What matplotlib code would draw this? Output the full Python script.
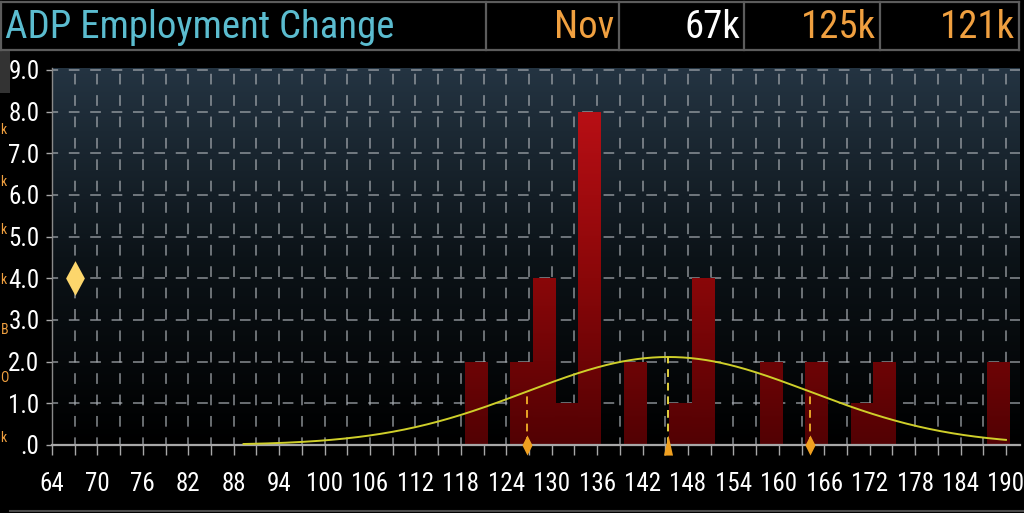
import numpy as np
import matplotlib
matplotlib.use('Agg')
import matplotlib.pyplot as plt
from matplotlib.patches import Rectangle
from matplotlib.colors import LinearSegmentedColormap
from matplotlib.lines import Line2D
from matplotlib import font_manager as fm

# ---------------- data ----------------
bin_centers = [120, 126, 129, 132, 135, 141, 147, 150, 159, 165, 171, 174, 189]
counts = [2, 2, 4, 1, 8, 2, 1, 4, 2, 2, 1, 2, 2]
bin_width = 3
actual_x = [67]
actual_y = [4]
mean_val = 145.4
sd_val = 18.7
curve_range = [89.3, 190]
n_obs = sum(counts)
x_tick_labels = list(range(64, 191, 6))
x_minor = list(range(67, 191, 6))
y_ticks = list(range(0, 10))
y_tick_labels = ['.0', '1.0', '2.0', '3.0', '4.0', '5.0', '6.0', '7.0', '8.0', '9.0']
header_title = 'ADP Employment Change'
header_cells = ['Nov', '67k', '125k', '121k']
left_letters = ['k', 'k', 'k', 'k', 'B', 'O', 'k']

# ---- pick the narrowest installed sans family ----
entries = [(f.name, f.stretch) for f in fm.fontManager.ttflist]
names = {n for n, _ in entries}
narrow_family = None
stretch = 'normal'
for cand in ['Liberation Sans Narrow', 'Roboto Condensed', 'Open Sans Condensed',
             'Noto Sans Condensed', 'DejaVu Sans Condensed']:
    if cand in names:
        narrow_family = cand
        break
if narrow_family is None:
    for fam in ['Roboto', 'Noto Sans', 'Open Sans', 'DejaVu Sans']:
        if any(n == fam and str(s).lower() in ('condensed', 'semi-condensed',
               'extra-condensed', '75', '62.5', '87.5') for n, s in entries):
            narrow_family = fam
            stretch = 'condensed'
            break
if narrow_family is None:
    narrow_family = 'Liberation Sans'
    k = 0.80
else:
    k = 1.0
FONT = [narrow_family, 'DejaVu Sans']
plt.rcParams['font.family'] = FONT
plt.rcParams['font.stretch'] = stretch

W, H = 1024, 513
fig = plt.figure(figsize=(W / 100, H / 100), dpi=100, facecolor='black')

# ---------- background / header layer ----------
bg = fig.add_axes([0, 0, 1, 1])
bg.set_xlim(0, W)
bg.set_ylim(H, 0)
bg.axis('off')
bg.set_zorder(0)
gcol = '#5c5c5c'
for yy in (1.5, 50):
    bg.add_line(Line2D([0, 1019], [yy, yy], color=gcol, lw=1.6))
for xx in (0.8, 486, 619, 744, 880, 1018.5):
    bg.add_line(Line2D([xx, xx], [1.5, 50], color=gcol, lw=1.6))
title_fs = 28 * (1.0 if k == 1.0 else 0.86)
bg.text(5, 28, header_title, color='#5bbccf', fontsize=title_fs, ha='left', va='center')
cell_right = [614, 740, 876, 1015]
cell_cols = ['#f0a040', '#ffffff', '#f0a040', '#f0a040']
for t, xr, c in zip(header_cells, cell_right, cell_cols):
    bg.text(xr, 28, t, color=c, fontsize=title_fs, ha='right', va='center')
bg.add_patch(Rectangle((0, 50), 10, 43, color='#333333', lw=0))
bg.add_line(Line2D([10, W], [510.5, 510.5], color='#4a4a4a', lw=1.5))
letter_y = [130, 182, 230, 280, 330, 378, 438]
for ch, yy in zip(left_letters, letter_y):
    bg.text(0.5, yy, ch, color='#f0a040', fontsize=10, ha='left', va='center')

# ---------- chart axes ----------
px_per_unit = 7.571
x0, x1 = 64, 64 + (1020 - 52) / px_per_unit
y0, y1 = 0, (445 - 68) / 41.67
ax = fig.add_axes([52 / W, 1 - 445 / H, (1020 - 52) / W, (445 - 68) / H])
ax.set_zorder(2)
ax.set_xlim(x0, x1)
ax.set_ylim(y0, y1)
ax.patch.set_alpha(0)

bg_cmap = LinearSegmentedColormap.from_list('bg', ['#000000', '#0c1318', '#243442'])
ax.imshow(np.linspace(0, 1, 256).reshape(-1, 1), extent=[x0, x1, y0, y1],
          aspect='auto', origin='lower', cmap=bg_cmap, zorder=0)

# grid
gc = '#a8adb2'
for yv in y_ticks[1:]:
    ax.axhline(yv, color=gc, lw=1.1, ls=(3, (7, 7)), zorder=1, alpha=0.8)
for xv in range(67, 191, 3):
    ax.axvline(xv, color=gc, lw=1.1, ls=(2, (7, 7)), zorder=1, alpha=0.8)

# bars with vertical gradient
bar_cmap = LinearSegmentedColormap.from_list('bar', ['#520103', '#8a0709', '#b80f15'])
bars = ax.bar(bin_centers, counts, width=bin_width, color='none', lw=0, zorder=2)
for p in bars:
    im = ax.imshow(np.linspace(0, 1, 256).reshape(-1, 1), extent=[x0, x1, 0, 8],
                   aspect='auto', origin='lower', cmap=bar_cmap, zorder=2)
    im.set_clip_path(p)
ax.set_xlim(x0, x1)
ax.set_ylim(y0, y1)

# fitted normal curve
xs = np.linspace(curve_range[0], curve_range[1], 400)
scale = n_obs * bin_width / (sd_val * np.sqrt(2 * np.pi))
def dens(x):
    return scale * np.exp(-0.5 * ((x - mean_val) / sd_val) ** 2)
ax.plot(xs, dens(xs), color='#cfcf2a', lw=1.4, zorder=4)

# mean and +/- sd lines
ax.plot([mean_val, mean_val], [0, dens(mean_val)], color='#e2d040', lw=1.4,
        ls=(0, (4, 3)), zorder=4)
for xv in (mean_val - sd_val, mean_val + sd_val):
    ax.plot([xv, xv], [0, dens(xv)], color='#e8a526', lw=1.4, ls=(0, (4, 3)), zorder=4)

tri = [(-0.45, -1), (0.45, -1), (0, 1), (-0.45, -1)]
dia_s = [(0, 1), (0.5, 0), (0, -1), (-0.5, 0), (0, 1)]
dia_b = [(0, 1), (0.54, 0), (0, -1), (-0.54, 0), (0, 1)]
ax.plot([mean_val - sd_val, mean_val + sd_val], [0, 0], ls='none', marker=dia_s,
        markersize=14.5, color='#f0a020', mec='none', clip_on=False, zorder=6)
ax.plot([mean_val], [0], ls='none', marker=tri, markersize=14.5, color='#f0a020',
        mec='none', clip_on=False, zorder=6)
ax.plot(actual_x, actual_y, ls='none', marker=dia_b, markersize=25,
        color='#fcd66c', mec='none', zorder=6)

# spines & ticks
for s in ('top', 'right'):
    ax.spines[s].set_visible(False)
ax.spines['bottom'].set_color('#a8a8a8')
ax.spines['bottom'].set_linewidth(1.6)
ax.spines['left'].set_color('#8a8a8a')
ax.spines['left'].set_linewidth(1.0)
ax.set_xticks(x_tick_labels)
ax.set_xticklabels([str(v) for v in x_tick_labels])
ax.set_xticks(x_minor, minor=True)
ax.set_yticks(y_ticks)
ax.set_yticklabels(y_tick_labels)
ax.tick_params(axis='x', which='both', direction='out', length=7.5, width=1.0,
               color='#a8a8a8', labelcolor='white', labelsize=18 * k, pad=12)
ax.tick_params(axis='y', direction='out', length=4, width=1.0, color='#a8a8a8',
               labelcolor='white', labelsize=18 * k, pad=5)

fig.savefig('out.png', dpi=100, facecolor='black')
